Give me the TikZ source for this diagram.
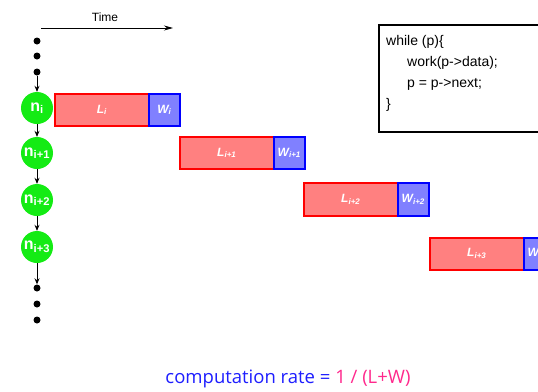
\documentclass[tikz,border=0pt]{standalone}
\usepackage{fontspec}
\setmainfont{Liberation Sans}
\newfontfamily\rateFont{Open Sans}
\usetikzlibrary{arrows.meta}
\definecolor{barred}{RGB}{255,128,128}
\definecolor{barblue}{RGB}{128,128,255}
\definecolor{nodegreen}{RGB}{20,235,20}
\definecolor{ratepink}{RGB}{255,40,140}
\definecolor{rateblue}{RGB}{30,30,255}
\tikzset{
  listnode/.style={circle,fill=nodegreen,minimum size=32pt,inner sep=0pt,text=white,font=\fontsize{16}{16}\selectfont\bfseries},
  dotnode/.style={circle,fill=black,minimum size=7pt,inner sep=0pt},
  link/.style={-{Stealth[length=6pt,width=5pt]},line width=0.8pt},
  lbar/.style={draw=red,fill=barred,line width=1.6pt,text=white,font=\fontsize{12}{12}\selectfont\bfseries\itshape},
  wbar/.style={draw=blue,fill=barblue,line width=1.6pt,text=white,font=\fontsize{12}{12}\selectfont\bfseries\itshape},
  codetext/.style={anchor=west,font=\fontsize{14}{14}\selectfont,inner sep=0pt}
}
\begin{document}
\begin{tikzpicture}[x=1pt,y=-1pt]
\useasboundingbox (0,0) rectangle (538,391);
\clip (0,0) rectangle (538,391);
% time axis
\node[font=\fontsize{12}{12}\selectfont] (time) at (105,17) {Time};
\coordinate (t0) at (41,28);
\coordinate (t1) at (173,28);
\draw[-{Stealth[length=9pt,width=5pt]},line width=0.8pt] (t0) -- (t1);
% dots top
\node[dotnode] (d1) at (37,41) {};
\node[dotnode] (d2) at (37,56) {};
\node[dotnode] (d3) at (37,72) {};
% list nodes
\node[listnode] (n0) at (37,108) {n\textsubscript{i}};
\node[listnode] (n1) at (37,153) {n\textsubscript{i+1}};
\node[listnode] (n2) at (37,200) {n\textsubscript{i+2}};
\node[listnode] (n3) at (37,247) {n\textsubscript{i+3}};
% dots bottom
\node[dotnode] (e1) at (37,288) {};
\node[dotnode] (e2) at (37,304) {};
\node[dotnode] (e3) at (37,320) {};
\draw[link] (d3) -- (n0);
\draw[link] (n0) -- (n1);
\draw[link] (n1) -- (n2);
\draw[link] (n2) -- (n3);
\draw[link] (n3) -- (e1);
% bars
\node[lbar,minimum width=94pt,minimum height=32pt,anchor=north west] (l0) at (54,93) {L\textsubscript{i}};
\node[wbar,minimum width=31pt,minimum height=32pt,anchor=north west] (w0) at (148,93) {W\textsubscript{i}};
\node[lbar,minimum width=94pt,minimum height=32pt,anchor=north west] (l1) at (179,136) {L\textsubscript{i+1}};
\node[wbar,minimum width=31pt,minimum height=32pt,anchor=north west] (w1) at (273,136) {W\textsubscript{i+1}};
\node[lbar,minimum width=94pt,minimum height=33pt,anchor=north west] (l2) at (303,182) {L\textsubscript{i+2}};
\node[wbar,minimum width=31pt,minimum height=33pt,anchor=north west] (w2) at (397,182) {W\textsubscript{i+2}};
\node[lbar,minimum width=94pt,minimum height=32pt,anchor=north west] (l3) at (429,237) {L\textsubscript{i+3}};
\node[wbar,minimum width=31pt,minimum height=32pt,anchor=north west] (w3) at (523,237) {W\textsubscript{i+3}};
% code box
\node[draw,line width=1.6pt,minimum width=170pt,minimum height=107pt,anchor=north west] (code) at (378,24) {};
\node[codetext] (c1) at (386,42) {while (p)\{};
\node[codetext] (c2) at (407,63) {work(p->data);};
\node[codetext] (c3) at (407,84) {p = p->next;};
\node[codetext] (c4) at (386,105) {\}};
% rate
\node[font=\fontsize{18.5}{18.5}\selectfont\rateFont] (rate) at (288,379) {\textcolor{rateblue}{computation rate =} \textcolor{ratepink}{1 / (L+W)}};
\end{tikzpicture}
\end{document}
